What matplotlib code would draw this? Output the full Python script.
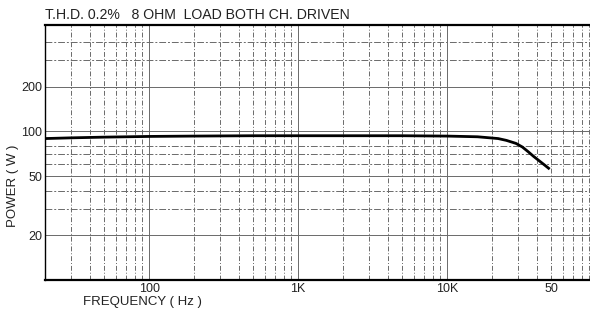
import matplotlib
matplotlib.use("Agg")
from matplotlib import pyplot as plt
from matplotlib.ticker import FixedLocator, FixedFormatter, NullFormatter

plt.rcParams['font.family'] = ['Liberation Sans', 'DejaVu Sans']

# power vs frequency curve
freq = [20, 30, 50, 100, 200, 500, 1000, 2000, 5000, 10000,
        16000, 22000, 25000, 29000, 32000, 35000, 38000, 41000, 45000, 48000]
power = [89.5, 90.5, 91.5, 92.5, 93, 93.5, 93.5, 93.5, 93.5, 93,
         92, 89.5, 87, 83, 78.5, 73, 68, 64, 59.5, 56.5]

x_ticks = [100, 1000, 10000, 50000]
x_labels = ['100', '1K', '10K', '50']
y_ticks = [20, 50, 100, 200]
y_labels = ['20', '50', '100', '200']
y_grid = [20, 30, 40, 50, 60, 70, 80, 100, 200, 300, 400]
x_grid = [m * d for d in [10, 100, 1000, 10000] for m in range(2, 10)] + [100, 1000, 10000]

fig = plt.figure(figsize=(5.9, 3.1), dpi=100)
ax = fig.add_axes([45 / 590, 30 / 310, 545 / 590, 255 / 310])

ax.set_xscale('log')
ax.set_yscale('log')
ax.set_xlim(20, 91000)
ax.set_ylim(10, 520)

# scanned-looking grid
for g in x_grid:
    ls = '-' if g in (100, 1000, 10000) else (0, (5, 2, 1, 2))
    ax.axvline(g, color='#6a6a6a', lw=0.7, ls=ls, zorder=1)
for g in y_grid:
    ls = '-' if g in (20, 50, 100, 200) else (0, (7, 2, 2, 2))
    ax.axhline(g, color='#6a6a6a', lw=0.7, ls=ls, zorder=1)

ax.plot(freq, power, color='black', lw=2, zorder=3)

ax.xaxis.set_major_locator(FixedLocator(x_ticks))
ax.xaxis.set_major_formatter(FixedFormatter(x_labels))
ax.xaxis.set_minor_formatter(NullFormatter())
ax.yaxis.set_major_locator(FixedLocator(y_ticks))
ax.yaxis.set_major_formatter(FixedFormatter(y_labels))
ax.yaxis.set_minor_formatter(NullFormatter())
ax.tick_params(which='both', length=0, labelsize=9, colors='#222222')
ax.tick_params(axis='x', pad=2)
ax.tick_params(axis='y', pad=2)

ax.spines['right'].set_visible(False)
ax.spines['top'].set_linewidth(1.6)
ax.spines['bottom'].set_linewidth(1.6)
ax.spines['left'].set_linewidth(1.0)

fig.text(45 / 590, 1 - 15 / 310, 'T.H.D. 0.2%   8 OHM  LOAD BOTH CH. DRIVEN',
         fontsize=10.2, va='center', ha='left', color='#222222')
fig.text(13 / 590, 1 - 186 / 310, 'POWER ( W )', rotation=90,
         fontsize=9.5, va='center', ha='center', color='#222222')
fig.text(142 / 590, 1 - 302 / 310, 'FREQUENCY ( Hz )',
         fontsize=9.5, va='center', ha='center', color='#222222')

fig.savefig('out.png', dpi=100)
